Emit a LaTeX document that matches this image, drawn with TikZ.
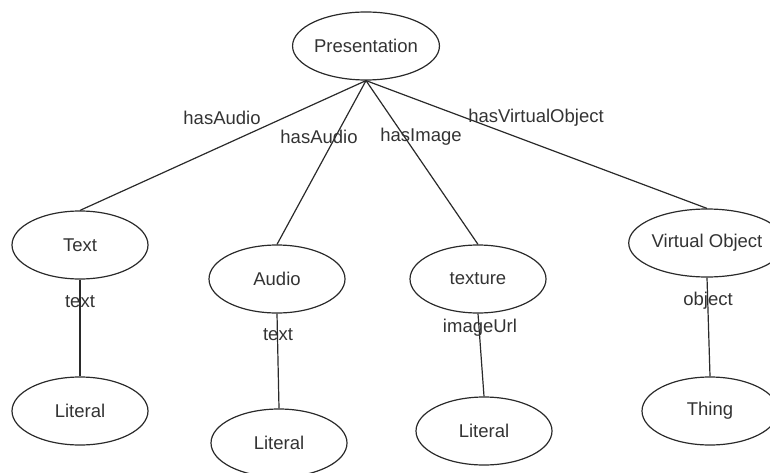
\documentclass[tikz,border=0pt]{standalone}
\usepackage{fontspec}
\setmainfont{Liberation Sans}
\usetikzlibrary{shapes.geometric}
\definecolor{ink}{HTML}{2A2A2A}
\definecolor{txt}{HTML}{333333}
\begin{document}
\begin{tikzpicture}[x=1pt,y=-1pt,
  every node/.style={font=\fontsize{18.5}{22}\selectfont, text=txt},
  cls/.style={ellipse, draw=ink, line width=1.2pt, inner sep=0pt,
              minimum width=136pt, minimum height=68pt},
  rel/.style={inner sep=0pt},
  link/.style={draw=ink, line width=1.2pt}]
\useasboundingbox (0,0) rectangle (770,473);

% class nodes
\node[cls] (pres)  at (366,46)  {Presentation};
\node[cls] (text)  at (80,245)  {Text};
\node[cls] (audio) at (277,279) {Audio};
\node[cls] (tex)   at (478,279) {texture};
\node[cls] (vobj)  at (707,243) {Virtual Object};
\node[cls] (lit1)  at (80,411)  {Literal};
\node[cls] (lit2)  at (279,443) {Literal};
\node[cls] (lit3)  at (484,431) {Literal};
\node[cls] (thing) at (710,411) {Thing};

% property links
\draw[link] (pres.south) -- (text.north);
\draw[link] (pres.south) -- (audio.north);
\draw[link] (pres.south) -- (tex.north);
\draw[link] (pres.south) -- (vobj.north);
\draw[link] (text.south) -- (lit1.north);
\draw[link] (audio.south) -- (lit2.north);
\draw[link] (tex.south) -- (lit3.north);
\draw[link] (vobj.south) -- (thing.north);

% property names
\node[rel] (l1) at (222,118) {hasAudio};
\node[rel] (l2) at (319,137) {hasAudio};
\node[rel] (l3) at (421,137) {hasImage};
\node[rel] (l4) at (536,118) {hasVirtualObject};
\node[rel] (l5) at (80,302)  {text};
\node[rel] (l6) at (278,335) {text};
\node[rel] (l7) at (480,328) {imageUrl};
\node[rel] (l8) at (708,301) {object};
\end{tikzpicture}
\end{document}
